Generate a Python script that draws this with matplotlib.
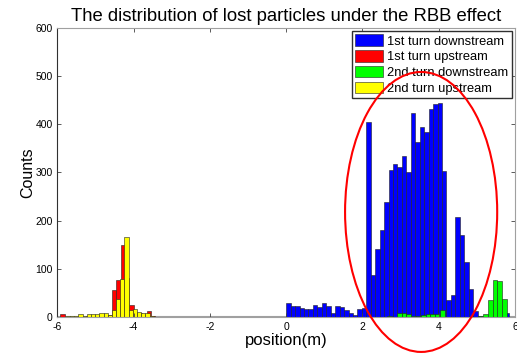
import numpy as np
import matplotlib
matplotlib.use("Agg")
import matplotlib.pyplot as plt
from matplotlib.patches import Ellipse

plt.rcParams['font.family'] = ['Liberation Sans', 'DejaVu Sans']
plt.rcParams['axes.unicode_minus'] = False

# histogram data: first bin edge, bin width, counts
labels = ["1st turn downstream", "1st turn upstream",
          "2nd turn downstream", "2nd turn upstream"]
colors = ["#0000ff", "#ff0000", "#00ff00", "#ffff00"]

blue_start, blue_width = 0.0, 0.1168
blue_counts = [29, 22, 22, 19, 17, 17, 25, 21, 30, 22, 8, 22, 21, 15, 8, 4, 17, 19,
               405, 87, 141, 180, 239, 305, 318, 311, 334, 300, 423,
               364, 394, 383, 431, 442, 445, 302,
               35, 46, 207, 170, 115, 59, 13, 2, 0, 0, 0, 0, 0, 8]

red_start, red_width = -5.92, 0.113
red_counts = [6, 1, 1, 0, 2, 1, 2, 1, 1, 2, 3, 4, 55, 76, 149, 80, 24, 8, 9, 5, 12, 2]

green_start, green_width = 2.65, 0.1256
green_counts = [2, 0, 8, 9, 6, 3, 3, 4, 7, 7, 7, 14, 0, 0, 0, 0, 0, 0, 0, 2, 7, 35, 76, 74, 38]

yellow_start, yellow_width = -5.89, 0.11
yellow_counts = [1, 2, 2, 3, 7, 3, 7, 6, 6, 9, 8, 5, 14, 38, 78, 167, 15, 17, 10, 9, 8, 3, 1]

series = [(blue_start, blue_width, blue_counts),
          (red_start, red_width, red_counts),
          (green_start, green_width, green_counts),
          (yellow_start, yellow_width, yellow_counts)]

# circled region (center x, center y, width, height) in data units
ring = (3.54, 218, 3.99, 581)

fig = plt.figure(figsize=(5.17, 3.53), dpi=100)
ax = fig.add_axes([0.111, 0.102, 0.885, 0.819])

for (start, width, counts), c, lab in zip(series, colors, labels):
    counts = np.array(counts)
    lefts = start + width * np.arange(len(counts))
    ax.bar(lefts, counts, width=width, align='edge', color=c,
           edgecolor='#202020', linewidth=0.4, label=lab)

ax.axhline(0, color='#a0a0a0', lw=1.5, zorder=0.5)

ax.add_patch(Ellipse((ring[0], ring[1]), ring[2], ring[3], fill=False,
                     edgecolor='red', lw=1.5, clip_on=False, zorder=10))

ax.set_xlim(-6, 6)
ax.set_ylim(0, 600)
ax.set_xticks(np.arange(-6, 7, 2))
ax.set_yticks(np.arange(0, 601, 100))
ax.tick_params(direction='in', top=True, right=True, labelsize=7.5,
               length=3, width=0.6, colors='#404040', labelcolor='black')
for side in ['top', 'right']:
    ax.spines[side].set_color('#a0a0a0')
ax.spines['left'].set_color('#303030')
ax.spines['bottom'].set_color('#a0a0a0')

ax.set_title("The distribution of lost particles under the RBB effect", fontsize=13.3, pad=5)
ax.set_xlabel("position(m)", fontsize=12, labelpad=1)
ax.set_ylabel("Counts", fontsize=11.5, labelpad=0)

ax.legend(loc='upper right', fontsize=9.3, frameon=True, fancybox=False,
          edgecolor='#303030', borderaxespad=0.25, handlelength=2.2,
          handleheight=1.0, handletextpad=0.3, labelspacing=0.2,
          borderpad=0.25, framealpha=1)

fig.savefig("out.png", dpi=100)
